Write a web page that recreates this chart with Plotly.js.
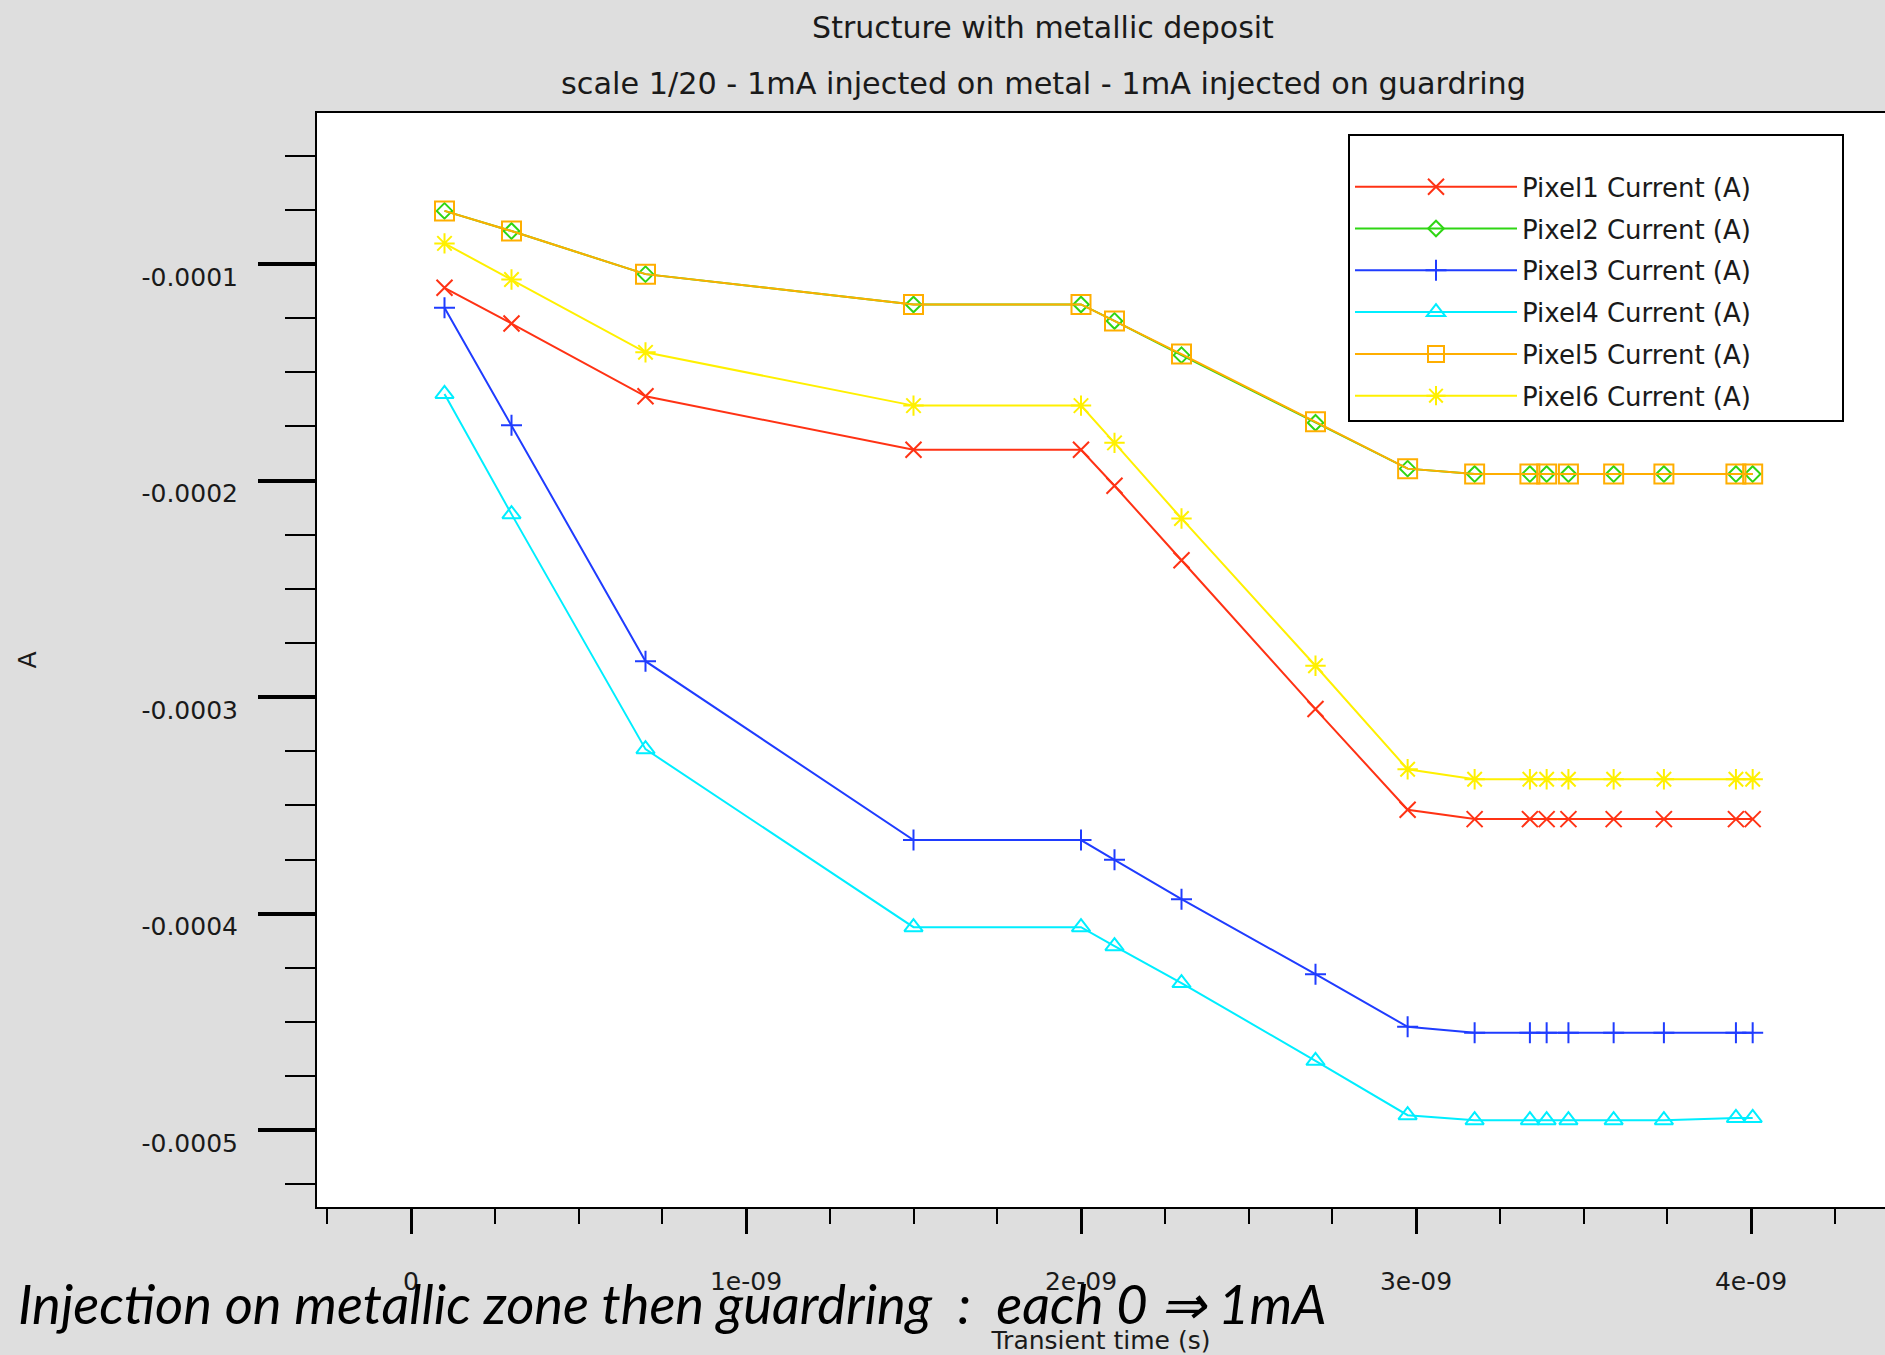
<!DOCTYPE html>
<html>
<head>
<meta charset="utf-8">
<script src="https://cdn.plot.ly/plotly-3.0.1.min.js"></script>
<style>
  html, body { margin: 0; padding: 0; background: #dedede; }
  #chart { width: 1885px; height: 1355px; }
</style>
</head>
<body>
<div id="chart"></div>
<script>
// ---- data (time in s, currents in A) ----
const time_s = [1e-10, 3e-10, 7e-10, 1.5e-9, 2.0e-9, 2.1e-9, 2.3e-9, 2.7e-9, 2.975e-9,
                3.175e-9, 3.34e-9, 3.39e-9, 3.455e-9, 3.59e-9, 3.74e-9, 3.955e-9, 4.005e-9];

const pixel1 = [-1.110e-4, -1.275e-4, -1.611e-4, -1.858e-4, -1.858e-4, -2.024e-4, -2.368e-4, -3.055e-4, -3.520e-4,
                -3.563e-4, -3.563e-4, -3.563e-4, -3.563e-4, -3.563e-4, -3.563e-4, -3.563e-4, -3.563e-4];
const pixel2 = [-0.755e-4, -0.848e-4, -1.047e-4, -1.187e-4, -1.187e-4, -1.263e-4, -1.421e-4, -1.733e-4, -1.945e-4,
                -1.970e-4, -1.970e-4, -1.970e-4, -1.970e-4, -1.970e-4, -1.970e-4, -1.970e-4, -1.970e-4];
const pixel3 = [-1.2025e-4, -1.745e-4, -2.834e-4, -3.660e-4, -3.660e-4, -3.751e-4, -3.933e-4, -4.279e-4, -4.522e-4,
                -4.550e-4, -4.550e-4, -4.550e-4, -4.550e-4, -4.550e-4, -4.550e-4, -4.550e-4, -4.550e-4];
const pixel4 = [-1.600e-4, -2.155e-4, -3.240e-4, -4.062e-4, -4.062e-4, -4.150e-4, -4.320e-4, -4.679e-4, -4.930e-4,
                -4.953e-4, -4.953e-4, -4.953e-4, -4.953e-4, -4.953e-4, -4.953e-4, -4.943e-4, -4.943e-4];
const pixel5 = [-0.755e-4, -0.848e-4, -1.047e-4, -1.187e-4, -1.187e-4, -1.263e-4, -1.416e-4, -1.729e-4, -1.945e-4,
                -1.970e-4, -1.970e-4, -1.970e-4, -1.970e-4, -1.970e-4, -1.970e-4, -1.970e-4, -1.970e-4];
const pixel6 = [-0.905e-4, -1.072e-4, -1.408e-4, -1.654e-4, -1.654e-4, -1.826e-4, -2.175e-4, -2.855e-4, -3.333e-4,
                -3.379e-4, -3.379e-4, -3.379e-4, -3.379e-4, -3.379e-4, -3.379e-4, -3.379e-4, -3.379e-4];

const seriesNames = ["Pixel1 Current (A)", "Pixel2 Current (A)", "Pixel3 Current (A)",
                     "Pixel4 Current (A)", "Pixel5 Current (A)", "Pixel6 Current (A)"];

const xTickVals = [0, 1e-9, 2e-9, 3e-9, 4e-9];
const xTickText = ["0", "1e-09", "2e-09", "3e-09", "4e-09"];
const yTickVals = [-1e-4, -2e-4, -3e-4, -4e-4, -5e-4];
const yTickText = ["-0.0001", "-0.0002", "-0.0003", "-0.0004", "-0.0005"];

// ---- styles ----
const seriesData = [pixel1, pixel2, pixel3, pixel4, pixel5, pixel6];
const colors  = ["#ff3214", "#2fd614", "#1f3cff", "#00eeff", "#ffae00", "#fff000"];
const symbols = ["x-thin-open", "diamond-open", "cross-thin-open", "triangle-up-open", "square-open", "asterisk-open"];
const msizes  = [16, 12, 15, 16, 19, 17];

const traces = seriesData.map((ys, i) => ({
  type: "scatter",
  mode: "lines+markers",
  name: seriesNames[i],
  legendgroup: "g" + i,
  x: time_s,
  y: ys,
  line: { color: colors[i], width: 2 },
  marker: { symbol: symbols[i], size: msizes[i], color: colors[i],
            line: { color: colors[i], width: 2 } }
}));

const FONT = "DejaVu Sans";
// blank legend header, used only to give the legend box its top padding and width
const legendHeader = "&nbsp;".repeat(73);

const layout = {
  width: 1885, height: 1355,
  paper_bgcolor: "#dedede",
  plot_bgcolor: "#ffffff",
  margin: { l: 317, r: 0, t: 113, b: 148, autoexpand: false },
  font: { family: FONT, size: 25, color: "#1a1a1a" },
  title: {
    text: "Structure with metallic deposit",
    font: { family: FONT, size: 30, color: "#1a1a1a" },
    xref: "container", yref: "container",
    x: 1043 / 1885, xanchor: "center",
    y: 1 - 27 / 1355, yanchor: "middle"
  },
  xaxis: {
    range: [-0.2806e-9, 4.4e-9],
    tickmode: "array", tickvals: xTickVals, ticktext: xTickText,
    ticks: "outside", ticklen: 25, tickwidth: 3, tickcolor: "#000",
    ticklabelstandoff: 26,
    minor: { dtick: 0.25e-9, tick0: 0, ticks: "outside", ticklen: 15, tickwidth: 2, tickcolor: "#000" },
    showgrid: false, zeroline: false,
    showline: true, linecolor: "#000", linewidth: 2, mirror: true,
    title: { text: "Transient time (s)", font: { family: FONT, size: 25 }, standoff: 36 }
  },
  yaxis: {
    range: [-5.354e-4, -0.303e-4],
    tickmode: "array", tickvals: yTickVals, ticktext: yTickText,
    ticks: "outside", ticklen: 57, tickwidth: 4, tickcolor: "#000",
    ticklabelstandoff: 15, ticklabelshift: 13,
    minor: { dtick: 0.25e-4, tick0: 0, ticks: "outside", ticklen: 30, tickwidth: 2, tickcolor: "#000" },
    showgrid: false, zeroline: false,
    showline: true, linecolor: "#000", linewidth: 2, mirror: false,
    title: { text: "A", font: { family: FONT, size: 25 }, standoff: 98 }
  },
  showlegend: true,
  legend: {
    x: (1348 - 317) / 1568, xanchor: "left",
    y: (1207 - 134) / 1094, yanchor: "top",
    bgcolor: "#ffffff", bordercolor: "#000", borderwidth: 2,
    font: { family: FONT, size: 26, color: "#1a1a1a" },
    title: { text: legendHeader, font: { family: FONT, size: 21 } },
    itemwidth: 162,
    traceorder: "grouped", tracegroupgap: 5
  },
  annotations: [
    {
      text: "scale 1/20 - 1mA injected on metal - 1mA injected on guardring",
      xref: "paper", yref: "paper",
      x: (1043 - 317) / 1568, xanchor: "center",
      y: (1207 - 83) / 1094, yanchor: "middle",
      showarrow: false,
      font: { family: FONT, size: 30.3, color: "#1a1a1a" }
    },
    {
      text: "Injection on metallic zone then guardring  :  each 0 ⇒ 1mA",
      xref: "paper", yref: "paper",
      x: (16 - 317) / 1568, xanchor: "left",
      y: (1207 - 1303) / 1094, yanchor: "middle",
      showarrow: false,
      font: { family: "Lato", size: 54.3, color: "#000", style: "italic" }
    }
  ]
};

Plotly.newPlot("chart", traces, layout, { displayModeBar: false, staticPlot: true });
</script>
</body>
</html>
